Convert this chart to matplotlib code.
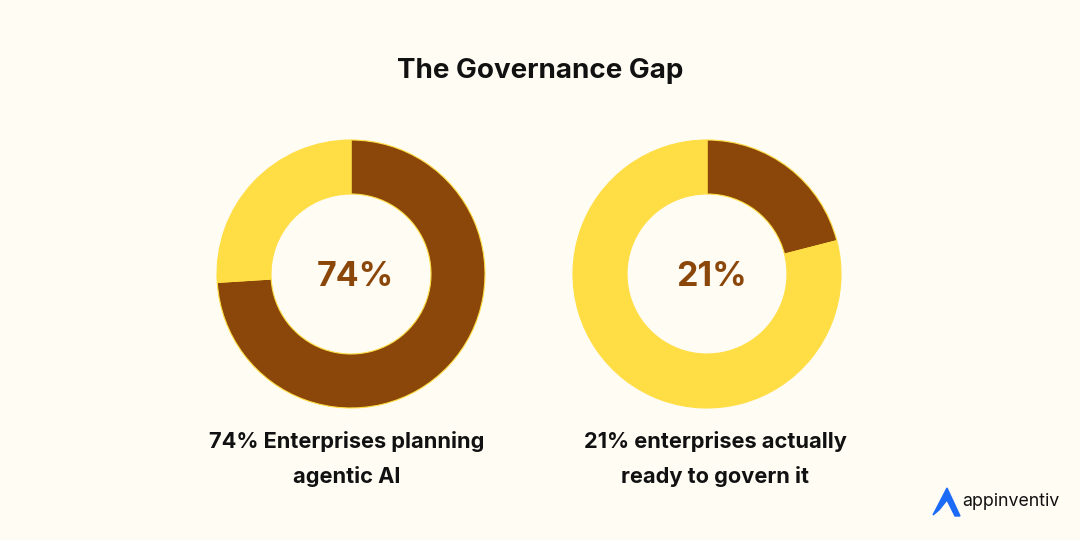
import matplotlib.pyplot as plt
from matplotlib.patches import Polygon

# data
share_values = [74, 21]
center_labels = ["74%", "21%"]
captions = ["74% Enterprises planning\nagentic AI",
            "21% enterprises actually\nready to govern it"]
title = "The Governance Gap"

BG = '#FFFCF4'
BROWN = '#8B4709'
YELLOW = '#FFDE45'

plt.rcParams['font.family'] = ['Inter', 'DejaVu Sans']

fig = plt.figure(figsize=(10.8, 5.4), dpi=100, facecolor=BG)
ax = fig.add_axes([0, 0, 1, 1])
ax.set_facecolor(BG)

centers = [(351, 266), (707, 266)]
caption_x = [347, 715]
for val, (cx, cy), lab, cap, capx in zip(share_values, centers, center_labels,
                                         captions, caption_x):
    ax.pie([val, 100 - val], colors=[BROWN, YELLOW], startangle=90,
           counterclock=False, center=(cx, cy), radius=134,
           wedgeprops=dict(width=54, edgecolor=YELLOW, linewidth=0.8))
    ax.text(cx + 4, cy - 3, lab, ha='center', va='center', fontsize=24.5,
            fontweight='bold', color=BROWN)
    ax.text(capx, 540 - 459, cap, ha='center', va='center', fontsize=15.7,
            fontweight='bold', color='#111111', linespacing=1.8)

ax.text(540, 540 - 71, title, ha='center', va='center', fontsize=20,
        fontweight='bold', color='#111111')

# logo
logo = Polygon([(933, 540 - 515), (947, 540 - 488), (960, 540 - 516),
                (955, 540 - 516), (947, 540 - 500), (939, 540 - 510)],
               closed=True, color='#1C6BF6')
ax.add_patch(logo)
ax.text(962, 540 - 502, "appinventiv", ha='left', va='center',
        fontsize=12.8, color='#111111')

ax.set_xlim(0, 1080)
ax.set_ylim(0, 540)
ax.set_aspect('auto')
ax.axis('off')

fig.savefig('out.png', dpi=100, facecolor=BG)
